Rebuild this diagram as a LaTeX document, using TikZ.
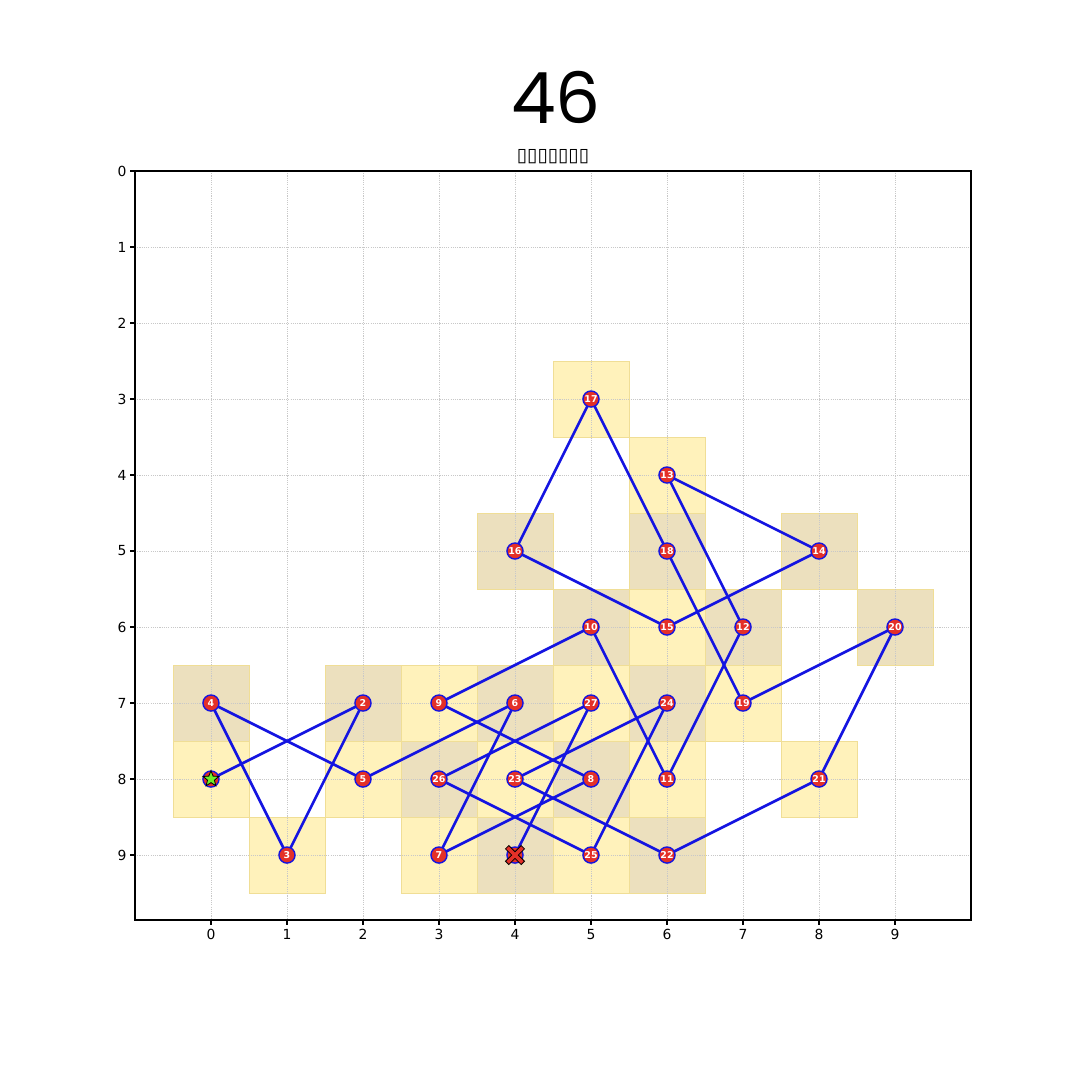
\documentclass[tikz,border=0pt]{standalone}
\usepackage{fontspec}
\setmainfont{DejaVu Sans}
\newfontfamily\bignum{Poppins}
\usetikzlibrary{shapes.geometric}

\definecolor{tileodd}{RGB}{255,242,187}
\definecolor{tileeven}{RGB}{236,224,190}
\definecolor{tileedge}{RGB}{240,222,150}
\definecolor{dotred}{RGB}{228,48,40}
\definecolor{routeblue}{RGB}{20,20,225}
\definecolor{startgreen}{RGB}{110,240,40}
\definecolor{gridgray}{RGB}{200,200,200}

\tikzset{
  tile/.style={fill=#1,draw=tileedge,line width=0.4pt},
  gridline/.style={gridgray,line width=0.5pt,dash pattern=on 0.8pt off 0.8pt},
  route/.style={routeblue,line width=1.9pt},
  waypt/.style={circle,fill=dotred,draw=routeblue,line width=1pt,inner sep=0pt,
    minimum size=11.6pt,text=white,font=\bfseries\fontsize{6.8}{6.8}\selectfont},
  startmark/.style={star,star points=5,star point ratio=2.3,fill=startgreen,draw=black,
    line width=0.6pt,inner sep=0pt,minimum size=12pt},
  endmark/.style={fill=dotred,draw=black,line width=0.6pt},
  ticklbl/.style={font=\fontsize{10}{12}\selectfont,inner sep=0pt}
}

\begin{document}
\begin{tikzpicture}[x=54.72pt,y=-54.72pt]
  \useasboundingbox[fill=white] (-2.776,-2.25) rectangle (11.434,11.96);

  % title
  \node[inner sep=0pt] (title) at (4.54,-0.97) {\bignum\fontsize{51}{51}\selectfont 46};
  \node[inner sep=0pt] (subtitle) at (4.5,-0.19) {\fontsize{13.5}{14}\selectfont ▯▯▯▯▯▯▯};

  % tiles under the route
  \foreach \n/\x/\y in {1/0/8,2/2/7,3/1/9,4/0/7,5/2/8,6/4/7,7/3/9,8/5/8,9/3/7,
      10/5/6,11/6/8,12/7/6,13/6/4,14/8/5,15/6/6,16/4/5,17/5/3,18/6/5,19/7/7,
      20/9/6,21/8/8,22/6/9,23/4/8,24/6/7,25/5/9,26/3/8,27/5/7,28/4/9}{
    \ifodd\n\def\tc{tileodd}\else\def\tc{tileeven}\fi
    \draw[tile=\tc] (\x-0.5,\y-0.5) rectangle (\x+0.5,\y+0.5);
  }

  % grid, frame and ticks
  \foreach \k in {0,...,9}{
    \draw[gridline] (\k,0) -- (\k,9.855);
    \draw[gridline] (-1,\k) -- (10,\k);
    \draw[line width=0.8pt] (-1,\k) -- (-1.064,\k);
    \draw[line width=0.8pt] (\k,9.855) -- (\k,9.919);
    \node[ticklbl,anchor=east] (yl\k) at (-1.11,\k) {\k};
    \node[ticklbl,anchor=north] (xl\k) at (\k,9.97) {\k};
  }
  \draw[line width=0.8pt] (-1,0) rectangle (10,9.855);

  % way points
  \foreach \n/\x/\y in {2/2/7,3/1/9,4/0/7,5/2/8,6/4/7,7/3/9,8/5/8,9/3/7,
      10/5/6,11/6/8,12/7/6,13/6/4,14/8/5,15/6/6,16/4/5,17/5/3,18/6/5,19/7/7,
      20/9/6,21/8/8,22/6/9,23/4/8,24/6/7,25/5/9,26/3/8,27/5/7}
    \coordinate (c\n) at (\x,\y);
  \coordinate (c1) at (0,8);
  \coordinate (c28) at (4,9);

  % route
  \foreach \a [evaluate=\a as \b using int(\a+1)] in {1,...,27}
    \draw[route] (c\a) -- (c\b);

  \foreach \n in {2,...,27}
    \node[waypt] (p\n) at (c\n) {\n};
  \node[waypt] (p1) at (c1) {};
  \node[waypt] (p28) at (c28) {};

  % start and end marks
  \node[startmark] (start) at (p1) {};
  \begin{scope}[shift={(p28.center)},scale=0.125]
    \filldraw[endmark] (0,0.35) -- (0.65,1) -- (1,0.65) -- (0.35,0) -- (1,-0.65)
      -- (0.65,-1) -- (0,-0.35) -- (-0.65,-1) -- (-1,-0.65) -- (-0.35,0)
      -- (-1,0.65) -- (-0.65,1) -- cycle;
  \end{scope}
\end{tikzpicture}
\end{document}
